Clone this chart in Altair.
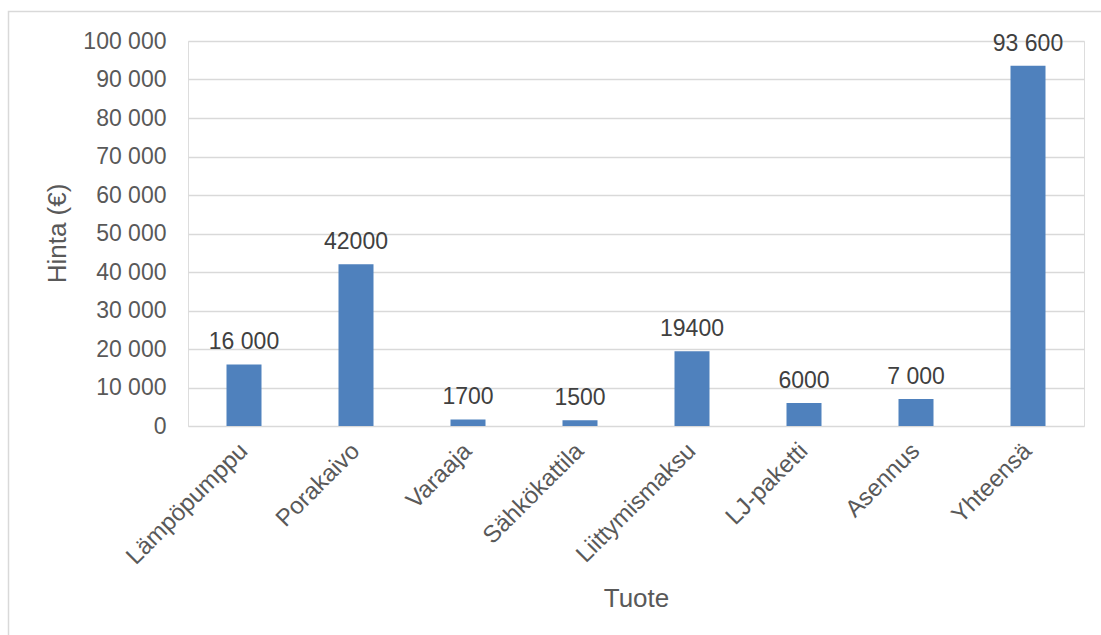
import altair as alt
import pandas as pd

categories = ["Lämpöpumppu", "Porakaivo", "Varaaja", "Sähkökattila",
              "Liittymismaksu", "LJ-paketti", "Asennus", "Yhteensä"]
values = [16000, 42000, 1700, 1500, 19400, 6000, 7000, 93600]
labels = ["16 000", "42000", "1700", "1500", "19400", "6000", "7 000", "93 600"]
y_ticks = [0, 10000, 20000, 30000, 40000, 50000, 60000, 70000, 80000, 90000, 100000]

df = pd.DataFrame({"Tuote": categories, "Hinta": values, "label": labels})

W, H = 896, 385
FONT = "Liberation Sans"

x_enc = alt.X(
    "Tuote:N", sort=categories,
    scale=alt.Scale(paddingInner=0.6875, paddingOuter=0.34375),
    axis=alt.Axis(
        title="Tuote", labelAngle=315, labelAlign="right", labelBaseline="middle",
        labelPadding=21, ticks=False, domain=False, labelFontSize=24,
        labelOverlap=False, labelColor="#595959", labelFont=FONT, titleFont=FONT,
        titleFontSize=26, titleColor="#595959", titleFontWeight="normal",
        titleX=448, titleY=172, titleBaseline="middle", titleAlign="center",
    ),
)
y_enc = alt.Y(
    "Hinta:Q",
    scale=alt.Scale(domain=[0, 100000], nice=False),
    axis=alt.Axis(
        title="Hinta (€)", values=y_ticks,
        labelExpr="replace(format(datum.value, ','), ',', ' ')",
        ticks=False, domain=False, labelPadding=22, labelFontSize=23,
        labelOverlap=False, labelColor="#595959", labelFont=FONT, grid=True,
        gridColor="#d9d9d9", gridWidth=1.3, titleFont=FONT, titleFontSize=26,
        titleColor="#595959", titleFontWeight="normal", titleAngle=270,
        titleX=-131, titleY=192, titleBaseline="middle", titleAlign="center",
    ),
)

base = alt.Chart(df)
bars = base.mark_bar(color="#4f81bd").encode(x=x_enc, y=y_enc)
text = base.mark_text(dy=-15, baseline="alphabetic", fontSize=23,
                      color="#404040", font=FONT).encode(
    x=x_enc, y=y_enc, text="label:N")

frame = alt.Chart(pd.DataFrame({"a": [0]})).mark_rect(
    fillOpacity=0, stroke="#d9d9d9", strokeWidth=1.5).encode(
    x=alt.value(-179.5), x2=alt.value(1101 - 188 + 20),
    y=alt.value(-29.5), y2=alt.value(700))

chart = alt.layer(frame, bars, text).properties(
    width=W, height=H,
    autosize=alt.AutoSizeParams(type="none"),
    padding={"left": 188, "top": 41, "right": 1101 - 188 - W, "bottom": 635 - 41 - H},
).configure_view(stroke=None).configure(background="white")

chart.save("out.html", embed_options={"renderer": "svg", "actions": False})
